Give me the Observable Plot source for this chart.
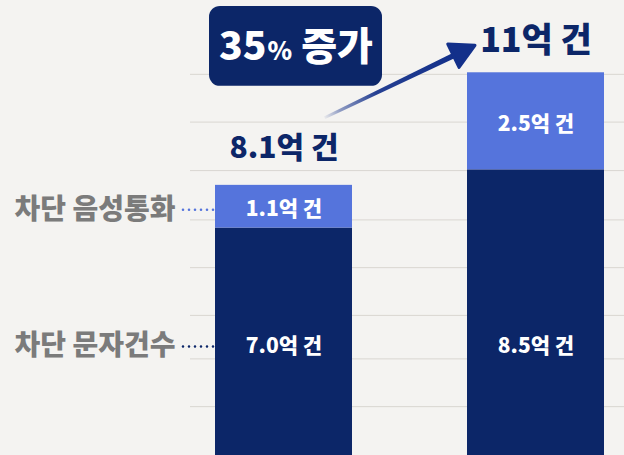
<!DOCTYPE html>
<html><head><meta charset="utf-8">
<script src="https://cdn.jsdelivr.net/npm/d3@7"></script>
<script src="https://cdn.jsdelivr.net/npm/@observablehq/plot@0.6"></script>
<style>
html,body{margin:0;padding:0;background:#f4f3f1;overflow:hidden;}
#chart svg{display:block;}
</style></head><body><div id="chart"></div>
<script>
// ---- data ----
const periods = ["이전", "이후"];
const seriesNames = ["차단 문자건수", "차단 음성통화"];
const textCounts = [7.0, 8.5];
const voiceCounts = [1.1, 2.5];
const totals = [8.1, 11];
const totalLabels = ["8.1억 건", "11억 건"];
const growthLabel = "35% 증가";
const gridValues = [10.96, 9.73, 8.48, 7.21, 5.98, 4.75, 3.63, 2.40];
const unit = "억 건";

// ---- styling ----
const NAVY = "#0c2668", BLUE = "#5574dc", ARROW = "#13308a", GRAY = "#7b7b7b", BG = "#f4f3f1";
const FONT = "'Noto Sans CJK KR', 'Noto Sans', sans-serif";
const innerLevel = 3.95;

const rows = periods.flatMap((p, i) => [
  {period: p, series: seriesNames[0], value: textCounts[i]},
  {period: p, series: seriesNames[1], value: voiceCounts[i]}
]);
const voiceRows = periods.map((p, i) => ({period: p, value: voiceCounts[i], mid: textCounts[i] + voiceCounts[i] / 2}));
const textRows = periods.map((p, i) => ({period: p, value: textCounts[i]}));
const totalRows = periods.map((p, i) => ({period: p, total: totals[i], label: totalLabels[i]}));
const legendVoice = [{series: seriesNames[1], y: voiceRows[0].mid}];
const legendText = [{series: seriesNames[0], y: innerLevel}];
const fmt = v => v.toFixed(1) + unit;

const plot = Plot.plot({
  width: 624,
  height: 455,
  marginTop: 0, marginBottom: 0, marginLeft: 190, marginRight: 0,
  style: {background: BG, fontFamily: FONT},
  x: {domain: periods, range: [214, 604], paddingInner: 0.458, paddingOuter: 0, axis: null},
  y: {domain: [1.141, 12.862], range: [455, 0], axis: null},
  color: {domain: seriesNames, range: [NAVY, BLUE]},
  marks: [
    Plot.ruleY(gridValues, {stroke: "#d9d6d1", strokeWidth: 1}),
    Plot.tickY(legendVoice, {x: () => periods[0], y: "y", dy: 3, stroke: "series", insetLeft: -32, insetRight: 130, strokeWidth: 2.6, strokeDasharray: "0 6", strokeLinecap: "round"}),
    Plot.tickY(legendText, {x: () => periods[0], y: "y", stroke: "series", insetLeft: -32, insetRight: 130, strokeWidth: 2.6, strokeDasharray: "0 6", strokeLinecap: "round"}),
    Plot.barY(rows, {x: "period", y: "value", fill: "series", clip: true}),
    Plot.text(voiceRows, {x: "period", y: "mid", dy: 3, text: d => fmt(d.value), fill: "white", fontSize: 21, fontWeight: 900}),
    Plot.text(textRows, {x: "period", y: () => innerLevel, text: d => fmt(d.value), fill: "white", fontSize: 21, fontWeight: 900}),
    Plot.text(totalRows.slice(0, 1), {x: "period", y: "total", dy: -37, text: "label", fill: NAVY, fontSize: 30, fontWeight: 900}),
    Plot.text(totalRows.slice(1), {x: "period", y: "total", dy: -32, text: "label", fill: NAVY, fontSize: 34, fontWeight: 900}),
    Plot.text(legendVoice, {y: "y", dy: 3, text: "series", frameAnchor: "left", textAnchor: "end", dx: -15, fill: GRAY, fontSize: 28, fontWeight: 900}),
    Plot.text(legendText, {y: "y", text: "series", frameAnchor: "left", textAnchor: "end", dx: -15, fill: GRAY, fontSize: 28, fontWeight: 900}),
    // growth badge anchored to the first bar
    Plot.barY([growthLabel], {x: () => periods[0], y1: 12.71, y2: 10.65, insetLeft: -6, insetRight: -30, rx: 11, fill: NAVY}),
    Plot.text([growthLabel], {x: () => periods[0], y: 11.66, dx: 12, text: d => d, fill: "white", fontSize: 39, fontWeight: 900})
  ]
});
document.getElementById("chart").appendChild(plot);

// ---- post-processing: badge tspans and gradient arrow, placed via the plot's scales ----
const svg = d3.select(plot);
svg.selectAll("text").filter(function() { return this.textContent === growthLabel; }).each(function() {
  const m = growthLabel.match(/^(\d+)(%)(.*)$/);
  const t = d3.select(this);
  t.text(null);
  t.append("tspan").attr("font-size", 39).text(m[1]);
  t.append("tspan").attr("font-size", 25).attr("dx", 1).text(m[2]);
  t.append("tspan").attr("font-size", 39).text(m[3]);
});

const sxObj = plot.scale("x"), syObj = plot.scale("y");
const X = sxObj.apply ? (v => sxObj.apply(v)) : d3.scaleBand().domain(sxObj.domain).range(sxObj.range).paddingInner(sxObj.paddingInner).paddingOuter(sxObj.paddingOuter);
const Y = syObj.apply ? (v => syObj.apply(v)) : d3.scaleLinear().domain(syObj.domain).range(syObj.range);
const bw = sxObj.bandwidth;
const tail = [X(periods[0]) + bw * 0.8, Y(totals[0]) - 67];
const tip = [X(periods[1]) + 8, Y(totals[1]) - 27];
const dxv = tip[0] - tail[0], dyv = tip[1] - tail[1];
const len = Math.hypot(dxv, dyv);
const u = [dxv / len, dyv / len], n = [-u[1], u[0]];
const L = 24, W = 13;
const base = [tip[0] - L * u[0], tip[1] - L * u[1]];
const shaftEnd = [base[0] + 4 * u[0], base[1] + 4 * u[1]];
const w0 = 1.4, w1 = 2.8;
const defs = svg.append("defs");
const grad = defs.append("linearGradient").attr("id", "arrowGrad").attr("gradientUnits", "userSpaceOnUse")
  .attr("x1", tail[0]).attr("y1", tail[1]).attr("x2", base[0]).attr("y2", base[1]);
[[0, 0.05], [0.12, 0.45], [0.4, 0.92], [1, 1]].forEach(([o, a]) =>
  grad.append("stop").attr("offset", o).attr("stop-color", ARROW).attr("stop-opacity", a));
const shaft = [
  [tail[0] + w0 * n[0], tail[1] + w0 * n[1]],
  [shaftEnd[0] + w1 * n[0], shaftEnd[1] + w1 * n[1]],
  [shaftEnd[0] - w1 * n[0], shaftEnd[1] - w1 * n[1]],
  [tail[0] - w0 * n[0], tail[1] - w0 * n[1]]
];
svg.append("path").attr("d", "M" + shaft.map(p => p.join(",")).join("L") + "Z").attr("fill", "url(#arrowGrad)");
const head = [tip, [base[0] + W * n[0], base[1] + W * n[1]], [base[0] - W * n[0], base[1] - W * n[1]]];
svg.append("path").attr("d", "M" + head.map(p => p.join(",")).join("L") + "Z")
  .attr("fill", ARROW).attr("stroke", ARROW).attr("stroke-width", 3).attr("stroke-linejoin", "round");
</script></body></html>
